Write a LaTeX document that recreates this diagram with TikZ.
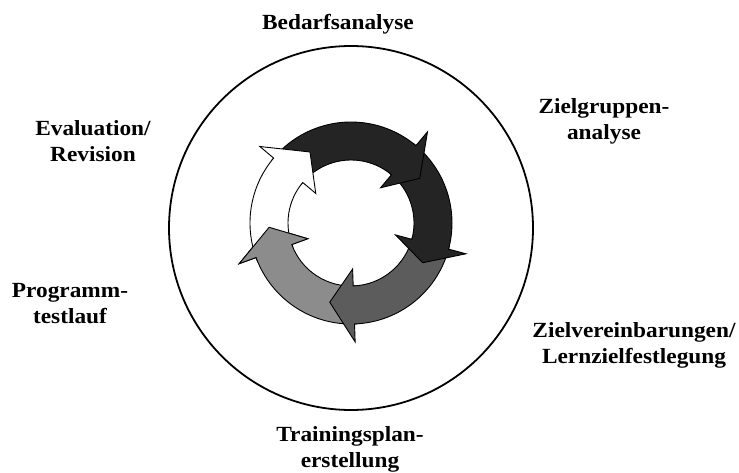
\documentclass[tikz,border=0pt]{standalone}
\usepackage{fontspec}
\setmainfont{Liberation Serif}[FakeStretch=1.08]
\definecolor{arrowdark}{HTML}{242424}
\definecolor{arrowmid}{HTML}{5C5C5C}
\definecolor{arrowlight}{HTML}{8C8C8C}
% one curved arrow of the cycle: #1 fill, #2 tail angle, #3 head base angle, #4 tip angle
\newcommand\cyclearrow[4]{%
  \filldraw[ringpart, fill=#1]
    (#2:101) arc[start angle=#2, end angle=#3, radius=101]
    -- (#3:119) -- (#4:82) -- (#3:46) -- (#3:63)
    arc[start angle=#3, end angle=#2, radius=63] -- cycle;}
\begin{document}
\begin{tikzpicture}[x=1pt, y=1pt,
  ringpart/.style={draw=black, line width=0.9pt, line join=miter, shift={(351,249)}},
  phase/.style={font=\fontsize{21.6}{26}\selectfont\bfseries, align=center, inner sep=0pt, anchor=base}]
\useasboundingbox (0,0) rectangle (739,472);
\fill[white] (0,0) rectangle (739,472);

% outer circle
\node[circle, draw, line width=1.8pt, minimum size=364pt, inner sep=0pt] (outer) at (351,244) {};

% cycle of arrows (clockwise)
\cyclearrow{arrowlight}{-86}{-160}{-177}
\cyclearrow{arrowmid}{-13}{-88}{-105}
\cyclearrow{arrowdark}{52}{-15}{-29}
\cyclearrow{arrowdark}{142}{50}{33}
\cyclearrow{white}{202}{140}{120}
% head of the light arrow laid over the tail of the white one
\filldraw[ringpart, fill=arrowlight]
  (-157:101) arc[start angle=-157, end angle=-160, radius=101]
  -- (-160:119) -- (-177:82) -- (-160:46) -- (-160:63)
  arc[start angle=-160, end angle=-157, radius=63];

% phase labels (base anchor sits on the last line)
\node[phase] (bedarf) at (338,442) {Bedarfsanalyse};
\node[phase] (zielgruppe) at (604,332) {Zielgruppen-\\analyse};
\node[phase] (evaluation) at (93,310) {Evaluation/\\Revision};
\node[phase] (testlauf) at (70,149) {Programm-\\testlauf};
\node[phase] (lernziel) at (634,109) {Zielvereinbarungen/\\Lernzielfestlegung};
\node[phase] (plan) at (350,5) {Trainingsplan-\\erstellung};
\end{tikzpicture}
\end{document}
